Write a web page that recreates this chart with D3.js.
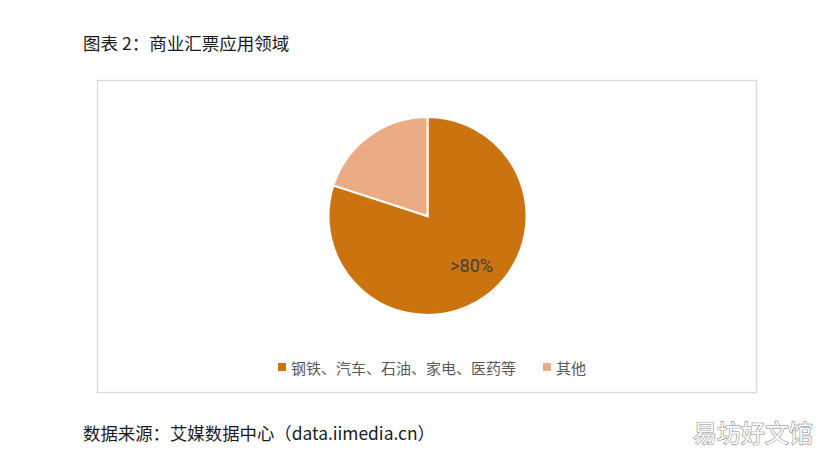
<!DOCTYPE html>
<html><head><meta charset="utf-8">
<script src="https://cdn.jsdelivr.net/npm/d3@7"></script>
<style>
html,body{margin:0;padding:0;background:#fff;}
svg{display:block;font-family:"Noto Sans CJK SC","Noto Sans",sans-serif;}
</style></head>
<body>
<svg id="c" width="838" height="464"></svg>
<script>
const categories = ["钢铁、汽车、石油、家电、医药等", "其他"];
const values = [80, 20];
const labels = [">80%", ""];
const colors = ["#CA730F", "#EBAB85"];

const svg = d3.select("#c");
svg.append("text").attr("x", 83).attr("y", 50).attr("font-size", 17.5).attr("fill", "#1a1a1a").text("图表 2：商业汇票应用领域");
svg.append("rect").attr("x", 97.5).attr("y", 80.5).attr("width", 659).attr("height", 312).attr("fill", "#fff").attr("stroke", "#d9d9d9").attr("stroke-width", 1.3);

const cx = 427.5, cy = 216, r = 99;
const pie = d3.pie().sort(null).value(d => d)(values);
const arc = d3.arc().innerRadius(0).outerRadius(r);
const g = svg.append("g").attr("transform", `translate(${cx},${cy})`);
g.selectAll("path").data(pie).join("path")
  .attr("d", arc).attr("fill", (d, i) => colors[i]).attr("stroke", "#fff").attr("stroke-width", 2);
const labArc = d3.arc().innerRadius(r * 0.62).outerRadius(r * 0.62);
g.selectAll("text.l").data(pie).join("text").attr("class", "l")
  .attr("transform", d => { const c = labArc.centroid(d); return `translate(${c[0]+8},${c[1]})`; })
  .attr("text-anchor", "middle").attr("dominant-baseline", "central")
  .attr("font-size", 18).attr("fill", "#404040").attr("font-family", "Roboto, 'Noto Sans', sans-serif")
  .text((d, i) => labels[i]);

const legX = [278, 543];
const lg = svg.append("g");
categories.forEach((c, i) => {
  lg.append("rect").attr("x", legX[i]).attr("y", 363).attr("width", 8).attr("height", 8).attr("fill", colors[i]);
  lg.append("text").attr("x", legX[i] + 13).attr("y", 367).attr("dominant-baseline", "central")
    .attr("font-size", 15).attr("fill", "#595959").text(c);
});

svg.append("text").attr("x", 83).attr("y", 440).attr("font-size", 17.4).attr("fill", "#1a1a1a").text("数据来源：艾媒数据中心（data.iimedia.cn）");
svg.append("text").attr("x", 693).attr("y", 442).attr("font-size", 24).attr("fill", "#fff")
  .attr("stroke", "#888").attr("stroke-width", 1.2).attr("paint-order", "stroke").text("易坊好文馆");
</script>
</body></html>
